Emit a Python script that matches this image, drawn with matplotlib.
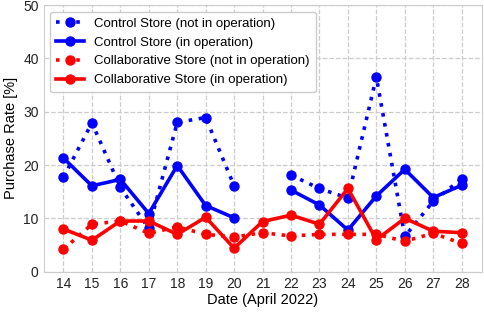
import numpy as np
import matplotlib
matplotlib.use("Agg")
import matplotlib.pyplot as plt

plt.rcParams["font.family"] = ["Liberation Sans", "DejaVu Sans"]

days = list(range(14, 29))
nan = np.nan

# Purchase rate [%]
control_off = [17.7, 27.9, 15.8, 8.1, 28.0, 28.9, 16.1, nan, 18.1, 15.6, 13.8, 36.5, 6.6, 13.2, 17.4]
control_on = [21.3, 16.1, 17.3, 10.9, 19.9, 12.4, 10.1, nan, 15.3, 12.5, 7.8, 14.2, 19.2, 13.9, 16.2]
collab_off = [4.2, 8.9, 9.5, 7.2, 8.4, 7.0, 6.5, 7.3, 6.7, 7.0, 7.0, 7.0, 5.7, 7.2, 5.3]
collab_on = [8.0, 5.9, 9.5, 9.5, 7.0, 10.2, 4.4, 9.4, 10.6, 8.9, 15.6, 6.0, 10.0, 7.6, 7.3]

fig, ax = plt.subplots(figsize=(4.84, 3.13), dpi=100)
fig.subplots_adjust(left=0.09, right=0.995, top=0.984, bottom=0.132)

dot = (0, (1, 1.8))
ax.plot(days, control_off, "o", ls=dot, color="#0000ff", lw=2.6, ms=6.5, label="Control Store (not in operation)")
ax.plot(days, control_on, "-o", color="#0000ff", lw=2.6, ms=6.5, label="Control Store (in operation)")
ax.plot(days, collab_off, "o", ls=dot, color="#ff0000", lw=2.6, ms=6.5, label="Collaborative Store (not in operation)")
ax.plot(days, collab_on, "-o", color="#ff0000", lw=2.6, ms=6.5, label="Collaborative Store (in operation)")

ax.set_xlim(13.3, 28.7)
ax.set_ylim(0, 50)
ax.set_xticks(days)
ax.set_yticks(range(0, 51, 10))
ax.tick_params(length=0, labelsize=10, colors="#222222")
ax.grid(True, linestyle="--", color="#cccccc", lw=0.9)
ax.set_axisbelow(True)
for s in ax.spines.values():
    s.set_color("#cccccc")

ax.set_xlabel("Date (April 2022)", fontsize=10.5, labelpad=2)
ax.set_ylabel("Purchase Rate [%]", fontsize=10.5, labelpad=4)
ax.legend(loc="upper left", fontsize=9.5, handlelength=2.1, labelspacing=0.5,
          borderpad=0.45, framealpha=1, edgecolor="#cccccc", fancybox=True)

fig.savefig("out.png", dpi=100)
